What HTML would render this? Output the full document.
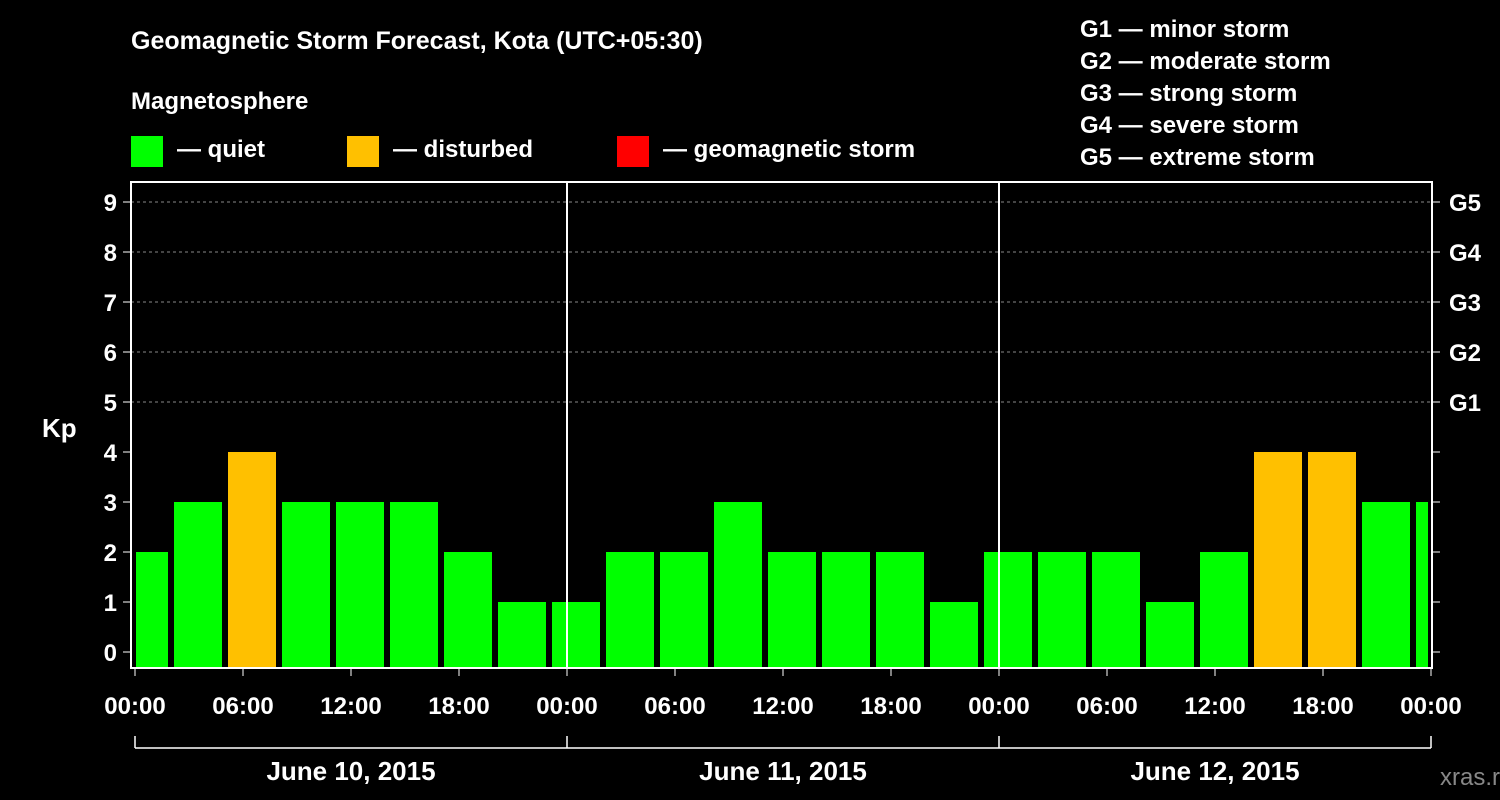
<!DOCTYPE html>
<html><head><meta charset="utf-8"><style>
html,body{margin:0;padding:0;background:#000;}
svg{display:block;font-family:"Liberation Sans",Arial,sans-serif;font-weight:bold;}
</style></head><body>
<svg id="chart" width="1500" height="800" viewBox="0 0 1500 800">
<rect width="1500" height="800" fill="#000"/>
<text x="131" y="49" fill="#fff" font-size="25">Geomagnetic Storm Forecast, Kota (UTC+05:30)</text>
<text x="131" y="109" fill="#fff" font-size="24">Magnetosphere</text>
<g><rect x="131" y="136" width="32" height="31" fill="#00ff00"/><text x="177" y="157" fill="#fff" font-size="24">— quiet</text></g>
<g><rect x="347" y="136" width="32" height="31" fill="#ffc000"/><text x="393" y="157" fill="#fff" font-size="24">— disturbed</text></g>
<g><rect x="617" y="136" width="32" height="31" fill="#ff0000"/><text x="663" y="157" fill="#fff" font-size="24">— geomagnetic storm</text></g>
<g fill="#fff" font-size="24">
<text x="1080" y="37">G1 — minor storm</text>
<text x="1080" y="69">G2 — moderate storm</text>
<text x="1080" y="101">G3 — strong storm</text>
<text x="1080" y="133">G4 — severe storm</text>
<text x="1080" y="165">G5 — extreme storm</text>
</g>
<text x="42" y="437" fill="#fff" font-size="26">Kp</text>
<text x="1440" y="785" fill="#888" font-size="24" font-weight="normal">xras.ru</text>
<g id="plot"></g>
</svg>
<script>
const kpValues=[2,3,4,3,3,3,2,1,1,2,2,3,2,2,2,1,2,2,2,1,2,4,4,3,3];
const yTicks=[0,1,2,3,4,5,6,7,8,9];
const gLabels=["G1","G2","G3","G4","G5"];
const gLevels=[5,6,7,8,9];
const xTickLabels=["00:00","06:00","12:00","18:00","00:00","06:00","12:00","18:00","00:00","06:00","12:00","18:00","00:00"];
const dayLabels=["June 10, 2015","June 11, 2015","June 12, 2015"];

const NS="http://www.w3.org/2000/svg";
const g=document.getElementById('plot');
const L=131,R=1432,T=182,B=668,X0=135,PXH=18;
const y=v=>652-50*v;
const x=h=>X0+h*PXH;
function el(t,a){const e=document.createElementNS(NS,t);for(const k in a)e.setAttribute(k,a[k]);g.appendChild(e);return e;}
// bars
kpValues.forEach((v,i)=>{
  let s=x(-1+3*i)+3, e=x(2+3*i)-3;
  s=Math.max(s,X0+1); e=Math.min(e,x(72)-3);
  const c=v>=5?'#ff0000':(v>=4?'#ffc000':'#00ff00');
  const r=el('rect',{x:s,y:y(v),width:e-s,height:B-y(v),fill:c});
  
  
});
// grid for G levels
gLevels.forEach((lv,i)=>{
  const ln=el('line',{x1:L,x2:R,y1:y(lv),y2:y(lv),stroke:'#888','stroke-dasharray':'3,3','stroke-width':1});
  
  
  const t=el('text',{x:1449,y:y(lv)+9,fill:'#fff','font-size':24});
  t.textContent=gLabels[i];
  
  
});
yTicks.forEach(v=>{
  el('line',{x1:L-8,x2:L,y1:y(v),y2:y(v),stroke:'#fff','stroke-width':1});
  el('line',{x1:R,x2:R+8,y1:y(v),y2:y(v),stroke:'#fff','stroke-width':1});
  const t=el('text',{x:L-14,y:y(v)+9,fill:'#fff','font-size':24,'text-anchor':'end'});
  t.textContent=v;
  
  
});
// day separators
[1,2].forEach(d=>{el('line',{x1:x(24*d),x2:x(24*d),y1:T,y2:B,stroke:'#fff','stroke-width':2});});
// frame
const fr=el('rect',{x:L,y:T,width:R-L,height:B-T,fill:'none',stroke:'#fff','stroke-width':2});


xTickLabels.forEach((lb,i)=>{
  el('line',{x1:x(6*i),x2:x(6*i),y1:B,y2:B+8,stroke:'#fff','stroke-width':1});
  const t=el('text',{x:x(6*i),y:714,fill:'#fff','font-size':24,'text-anchor':'middle'});
  t.textContent=lb;
  
  
});
// bracket
el('line',{x1:x(0),x2:x(72),y1:748,y2:748,stroke:'#fff','stroke-width':1.5});
[0,1,2,3].forEach(d=>el('line',{x1:x(24*d),x2:x(24*d),y1:736,y2:748,stroke:'#fff','stroke-width':1.5}));
dayLabels.forEach((lb,i)=>{
  const t=el('text',{x:x(24*i+12),y:780,fill:'#fff','font-size':26,'text-anchor':'middle'});
  t.textContent=lb;
  
  
});
</script>
</body></html>
